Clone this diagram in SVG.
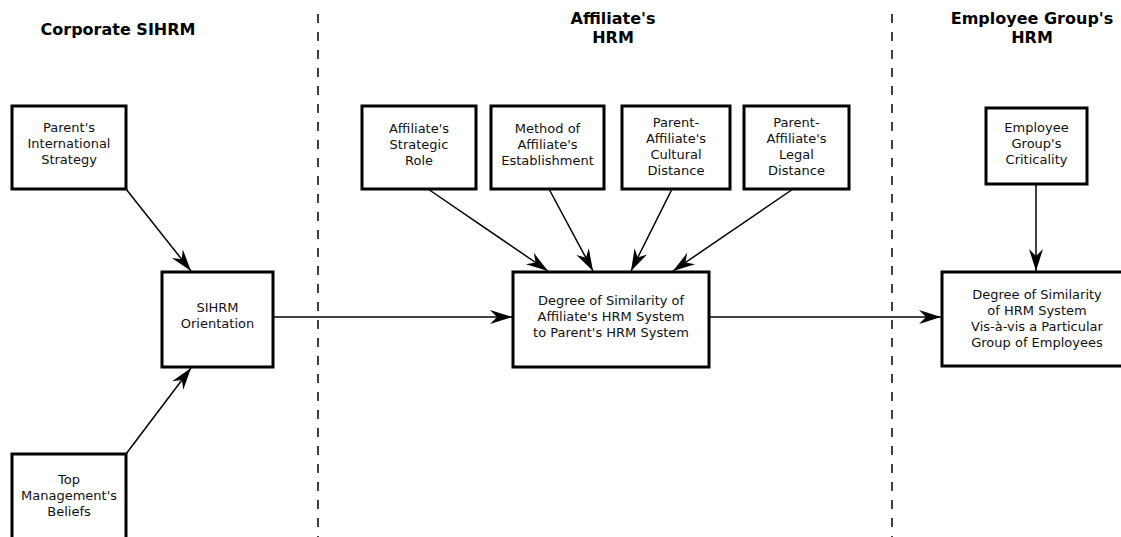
<svg xmlns="http://www.w3.org/2000/svg" width="1121" height="537" viewBox="0 0 1121 537">
<style>
.box{fill:#fff;stroke:#000;stroke-width:3}
.t{font-family:"DejaVu Sans",sans-serif;font-size:13px;fill:#111;text-anchor:middle}
.h{font-family:"DejaVu Sans",sans-serif;font-size:16px;font-weight:bold;fill:#000;text-anchor:middle}
.c{fill:none;stroke:#000;stroke-width:1.5}
.d{fill:none;stroke:#000;stroke-width:1.5;stroke-dasharray:9 9}
</style>
<defs>
<marker id="ah" viewBox="-24 -8 26 16" refX="0" refY="0" markerWidth="26" markerHeight="16" markerUnits="userSpaceOnUse" orient="auto">
<path d="M0,0 L-22,-7 L-15,0 L-22,7 Z" fill="#000"/>
</marker>
</defs>
<rect width="1121" height="537" fill="#fff"/>
<g id="dividers">
<line class="d" x1="318" y1="14" x2="318" y2="537"/>
<line class="d" x1="892" y1="14" x2="892" y2="537"/>
</g>
<g id="headers">
<text class="h" x="118" y="35">Corporate SIHRM</text>
<text class="h" x="613" y="24">Affiliate's</text>
<text class="h" x="613" y="43">HRM</text>
<text class="h" x="1032" y="24">Employee Group's</text>
<text class="h" x="1032" y="43">HRM</text>
</g>
<g id="connectors">
<line class="c" x1="126" y1="189" x2="191" y2="271" marker-end="url(#ah)"/>
<line class="c" x1="126" y1="454" x2="191" y2="368" marker-end="url(#ah)"/>
<line class="c" x1="273" y1="317" x2="512" y2="317" marker-end="url(#ah)"/>
<line class="c" x1="428" y1="189" x2="548" y2="271" marker-end="url(#ah)"/>
<line class="c" x1="549" y1="189" x2="593" y2="271" marker-end="url(#ah)"/>
<line class="c" x1="672" y1="189" x2="631" y2="271" marker-end="url(#ah)"/>
<line class="c" x1="793" y1="189" x2="673" y2="271" marker-end="url(#ah)"/>
<line class="c" x1="709" y1="317" x2="941" y2="317" marker-end="url(#ah)"/>
<line class="c" x1="1036" y1="184" x2="1036" y2="271" marker-end="url(#ah)"/>
</g>
<g id="n-parent-strategy">
<rect class="box" x="12" y="106" width="114" height="83"/>
<text class="t" x="69" y="132">Parent's</text>
<text class="t" x="69" y="148">International</text>
<text class="t" x="69" y="164">Strategy</text>
</g>
<g id="n-top-management">
<rect class="box" x="12" y="454" width="114" height="90"/>
<text class="t" x="69" y="484">Top</text>
<text class="t" x="69" y="500">Management's</text>
<text class="t" x="69" y="516">Beliefs</text>
</g>
<g id="n-sihrm">
<rect class="box" x="162" y="272" width="111" height="95"/>
<text class="t" x="217.5" y="312">SIHRM</text>
<text class="t" x="217.5" y="328">Orientation</text>
</g>
<g id="n-strategic-role">
<rect class="box" x="362" y="106" width="114" height="83"/>
<text class="t" x="419" y="133">Affiliate's</text>
<text class="t" x="419" y="149">Strategic</text>
<text class="t" x="419" y="165">Role</text>
</g>
<g id="n-establishment">
<rect class="box" x="491" y="106" width="113" height="83"/>
<text class="t" x="547.5" y="133">Method of</text>
<text class="t" x="547.5" y="149">Affiliate's</text>
<text class="t" x="547.5" y="165">Establishment</text>
</g>
<g id="n-cultural">
<rect class="box" x="622" y="106" width="108" height="83"/>
<text class="t" x="676" y="127">Parent-</text>
<text class="t" x="676" y="143">Affiliate's</text>
<text class="t" x="676" y="159">Cultural</text>
<text class="t" x="676" y="175">Distance</text>
</g>
<g id="n-legal">
<rect class="box" x="744" y="106" width="105" height="83"/>
<text class="t" x="796.5" y="127">Parent-</text>
<text class="t" x="796.5" y="143">Affiliate's</text>
<text class="t" x="796.5" y="159">Legal</text>
<text class="t" x="796.5" y="175">Distance</text>
</g>
<g id="n-affiliate-similarity">
<rect class="box" x="513" y="272" width="196" height="95"/>
<text class="t" x="611" y="305">Degree of Similarity of</text>
<text class="t" x="611" y="321">Affiliate's HRM System</text>
<text class="t" x="611" y="337">to Parent's HRM System</text>
</g>
<g id="n-criticality">
<rect class="box" x="986" y="108" width="101" height="76"/>
<text class="t" x="1036.5" y="132">Employee</text>
<text class="t" x="1036.5" y="148">Group's</text>
<text class="t" x="1036.5" y="164">Criticality</text>
</g>
<g id="n-group-similarity">
<rect class="box" x="942" y="272" width="190" height="94"/>
<text class="t" x="1037" y="299">Degree of Similarity</text>
<text class="t" x="1037" y="315">of HRM System</text>
<text class="t" x="1037" y="331">Vis-à-vis a Particular</text>
<text class="t" x="1037" y="347">Group of Employees</text>
</g>
</svg>
